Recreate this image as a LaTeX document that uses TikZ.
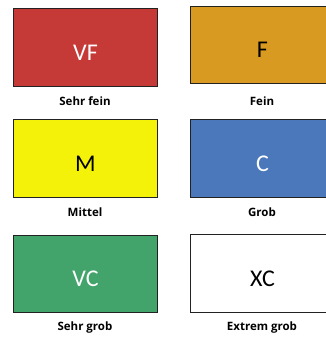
\documentclass[tikz,border=0pt]{standalone}
\usepackage{fontspec}
\setmainfont{Carlito}
\newfontfamily\labelfont{Open Sans}
\definecolor{cvf}{HTML}{C53A37}
\definecolor{cf}{HTML}{D99A22}
\definecolor{cm}{HTML}{F5F20A}
\definecolor{cc}{HTML}{4A78BA}
\definecolor{cvc}{HTML}{42A46B}
\definecolor{edge}{HTML}{222222}
\tikzset{
  grainbox/.style={draw=edge, line width=1pt, minimum width=144pt, minimum height=77pt,
    inner sep=0pt, anchor=north west, font=\fontsize{24}{24}\selectfont,
    text height=25pt, text depth=0pt},
  grainlabel/.style={font=\labelfont\bfseries\fontsize{11.5}{13}\selectfont, inner sep=0pt}
}
\begin{document}
\begin{tikzpicture}[x=1pt,y=-1pt]
\useasboundingbox (0,0) rectangle (326,337);
\node[grainbox, fill=cvf, text=white] (vf) at (13,8.5) {VF};
\node[grainbox, fill=cf, text=black] (f) at (190,6) {F};
\node[grainbox, fill=cm, text=black, minimum height=78pt] (m) at (13,119) {M};
\node[grainbox, fill=cc, text=white, minimum height=78pt] (c) at (190,119) {C};
\node[grainbox, fill=cvc, text=white] (vc) at (13,235) {VC};
\node[grainbox, fill=white, text=black, minimum height=78pt] (xc) at (190,234) {XC};
\node[grainlabel] (lvf) at (85,101) {Sehr fein};
\node[grainlabel] (lf) at (262,101) {Fein};
\node[grainlabel] (lm) at (85,212) {Mittel};
\node[grainlabel] (lc) at (262,212) {Grob};
\node[grainlabel] (lvc) at (85,328) {Sehr grob};
\node[grainlabel] (lxc) at (262,328) {Extrem grob};
\end{tikzpicture}
\end{document}
